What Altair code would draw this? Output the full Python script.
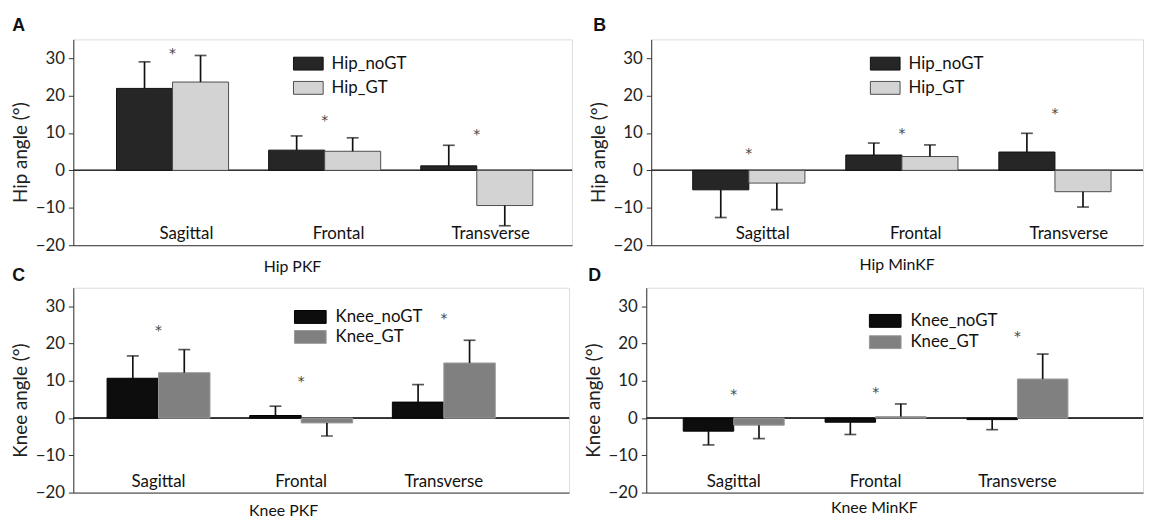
import altair as alt
import pandas as pd

categories = ["Sagittal", "Frontal", "Transverse"]

# Panel A: Hip PKF
hip_pkf_nogt = [21.9, 5.4, 1.2]
hip_pkf_nogt_sd = [7.1, 3.8, 5.5]
hip_pkf_gt = [23.6, 5.1, -9.4]
hip_pkf_gt_sd = [7.1, 3.6, 5.4]
hip_pkf_star = [31.6, 13.7, 10.0]

# Panel B: Hip MinKF
hip_minkf_nogt = [-5.2, 4.1, 4.9]
hip_minkf_nogt_sd = [7.4, 3.2, 5.0]
hip_minkf_gt = [-3.4, 3.7, -5.7]
hip_minkf_gt_sd = [7.1, 3.1, 4.1]
hip_minkf_star = [4.9, 10.3, 15.6]

# Panel C: Knee PKF
knee_pkf_nogt = [10.7, 0.7, 4.3]
knee_pkf_nogt_sd = [6.0, 2.5, 4.7]
knee_pkf_gt = [12.2, -1.3, 14.8]
knee_pkf_gt_sd = [6.2, 3.5, 6.1]
knee_pkf_star = [23.9, 10.2, 27.2]

# Panel D: Knee MinKF
knee_minkf_nogt = [-3.5, -1.1, -0.4]
knee_minkf_nogt_sd = [3.7, 3.3, 2.7]
knee_minkf_gt = [-1.9, 0.4, 10.5]
knee_minkf_gt_sd = [3.6, 3.4, 6.7]
knee_minkf_star = [6.6, 7.3, 22.3]

y_ticks = [-20, -10, 0, 10, 20, 30]
y_domain = [-20, 35]

FONT = "Lato"


def panel(letter, joint, xtitle, nogt, nogt_sd, gt, gt_sd, stars, fills, strokes, lay):
    names = [f"{joint}_noGT", f"{joint}_GT"]
    rows = []
    for i, c in enumerate(categories):
        for name, v, sd in ((names[0], nogt[i], nogt_sd[i]), (names[1], gt[i], gt_sd[i])):
            rows.append({"cat": c, "series": name, "value": v,
                         "end": v + sd if v >= 0 else v - sd})
    bars = pd.DataFrame(rows)
    stars_df = pd.DataFrame({"cat": categories, "star": stars})
    W, H = lay["width"], lay["height"]

    x = alt.X("cat:N", sort=categories,
              scale=alt.Scale(paddingInner=lay["pi"], paddingOuter=lay["po"], align=lay["align"]),
              axis=alt.Axis(title=xtitle, labels=False, ticks=False, domain=True,
                            domainColor="#333", domainWidth=1,
                            titleFont=FONT, titleFontSize=16, titleFontWeight="normal",
                            titleColor="#111", titlePadding=lay["xtp"], titleX=lay["xtx"]))
    yaxis = alt.Axis(title=f"{joint} angle (°)", values=y_ticks, grid=False, domain=True,
                     domainColor="#333", tickColor="#333", tickSize=5, labelPadding=4,
                     labelFont=FONT, labelFontSize=17, labelColor="#222",
                     titleFont=FONT, titleFontSize=19, titleFontWeight="normal",
                     titleColor="#222", titlePadding=5, titleY=H / 2 + 10)
    yscale = alt.Scale(domain=y_domain, nice=False, zero=False)

    def y(field):
        return alt.Y(f"{field}:Q", scale=yscale, axis=yaxis)

    xo = alt.XOffset("series:N", sort=names, scale=alt.Scale(paddingInner=0, paddingOuter=0))
    legend = alt.Legend(title=None, orient="none", legendX=lay["lx"], legendY=lay["ly"],
                        symbolType=lay["sym"], symbolSize=256, symbolStrokeWidth=1,
                        labelFont=FONT, labelFontSize=17, labelColor="#111",
                        labelOffset=lay["lo"], rowPadding=lay["rp"], padding=0)
    fill = alt.Fill("series:N", sort=names, scale=alt.Scale(domain=names, range=fills), legend=legend)
    stroke = alt.Stroke("series:N", sort=names, scale=alt.Scale(domain=names, range=strokes), legend=legend)

    zero = alt.Chart(bars).mark_rule(color="#333", strokeWidth=1).encode(y=alt.datum(0))
    bar = alt.Chart(bars).mark_bar(strokeWidth=1).encode(
        x=x, xOffset=xo, y=y("value"), y2=alt.datum(0), fill=fill, stroke=stroke)
    err = alt.Chart(bars).mark_rule(color="#111", strokeWidth=1.7).encode(
        x=x, xOffset=xo, y=y("value"), y2="end:Q")
    cap = alt.Chart(bars).mark_tick(color="#111", thickness=1.7, size=12).encode(
        x=x, xOffset=xo, y=y("end"))
    star = alt.Chart(stars_df).mark_text(text="*", font="DejaVu Sans", fontSize=14, color="#444",
                                          baseline="middle", dy=2).encode(x=x, y=y("star"))
    label = alt.Chart(stars_df).mark_text(font=FONT, fontSize=17, color="#111",
                                           baseline="alphabetic", dx=lay["ldx"]).encode(
        x=x, y=alt.value(H - 6), text="cat:N")

    return alt.layer(zero, bar, err, cap, star, label).properties(
        width=W, height=H,
        title=alt.TitleParams(letter, anchor="start", frame="bounds", font="Liberation Sans",
                              fontSize=18, fontWeight="bold", color="#111",
                              offset=lay["toff"], dx=lay["tdx"]))


hip_fill = ["#262626", "#d3d3d3"]
hip_stroke = ["#111111", "#4d4d4d"]
knee_fill = ["#0d0d0d", "#808080"]
knee_stroke = ["#000000", "#9a9a9a"]
sym_hip = "M-1.875,-0.8125H1.875V0.8125H-1.875Z"
sym_knee = "M-2,-0.8125H2V0.8125H-2Z"

A = panel("A", "Hip", "Hip PKF", hip_pkf_nogt, hip_pkf_nogt_sd, hip_pkf_gt, hip_pkf_gt_sd,
          hip_pkf_star, hip_fill, hip_stroke,
          dict(width=504, height=208, pi=0.2635, po=0.271, align=0.524, xtp=14, xtx=221,
               lx=229, ly=16, lo=15, rp=6.5, sym=sym_hip, ldx=14, toff=4, tdx=1))
B = panel("B", "Hip", "Hip MinKF", hip_minkf_nogt, hip_minkf_nogt_sd, hip_minkf_gt, hip_minkf_gt_sd,
          hip_minkf_star, hip_fill, hip_stroke,
          dict(width=497, height=208, pi=0.267, po=0.24, align=0.565, xtp=11.5, xtx=248,
               lx=228, ly=16, lo=15, rp=6.5, sym=sym_hip, ldx=14, toff=4, tdx=4))
C = panel("C", "Knee", "Knee PKF", knee_pkf_nogt, knee_pkf_nogt_sd, knee_pkf_gt, knee_pkf_gt_sd,
          knee_pkf_star, knee_fill, knee_stroke,
          dict(width=501, height=207, pi=0.2785, po=0.377, align=0.314, xtp=10, xtx=212,
               lx=231, ly=21, lo=17, rp=2.2, sym=sym_knee, ldx=0, toff=3, tdx=1))
D = panel("D", "Knee", "Knee MinKF", knee_minkf_nogt, knee_minkf_nogt_sd, knee_minkf_gt, knee_minkf_gt_sd,
          knee_minkf_star, knee_fill, knee_stroke,
          dict(width=502, height=207, pi=0.288, po=0.395, align=0.33, xtp=7.5, xtx=230,
               lx=233, ly=25, lo=17, rp=3.5, sym=sym_knee, ldx=0, toff=3, tdx=4))

indep = dict(x="independent", y="independent", fill="independent", stroke="independent",
             xOffset="independent")
row1 = alt.hconcat(A, B, spacing=15).resolve_scale(**indep).resolve_legend(fill="independent", stroke="independent")
row2 = alt.hconcat(C, D, spacing=13).resolve_scale(**indep).resolve_legend(fill="independent", stroke="independent")
chart = alt.vconcat(row1, row2, spacing=-10).resolve_scale(**indep).resolve_legend(
    fill="independent", stroke="independent").properties(
    padding={"left": 2, "top": 6, "right": 0, "bottom": 0}
).configure_view(stroke=None).configure(background="white")

chart.save("out.html", embed_options={"renderer": "svg", "actions": False})
